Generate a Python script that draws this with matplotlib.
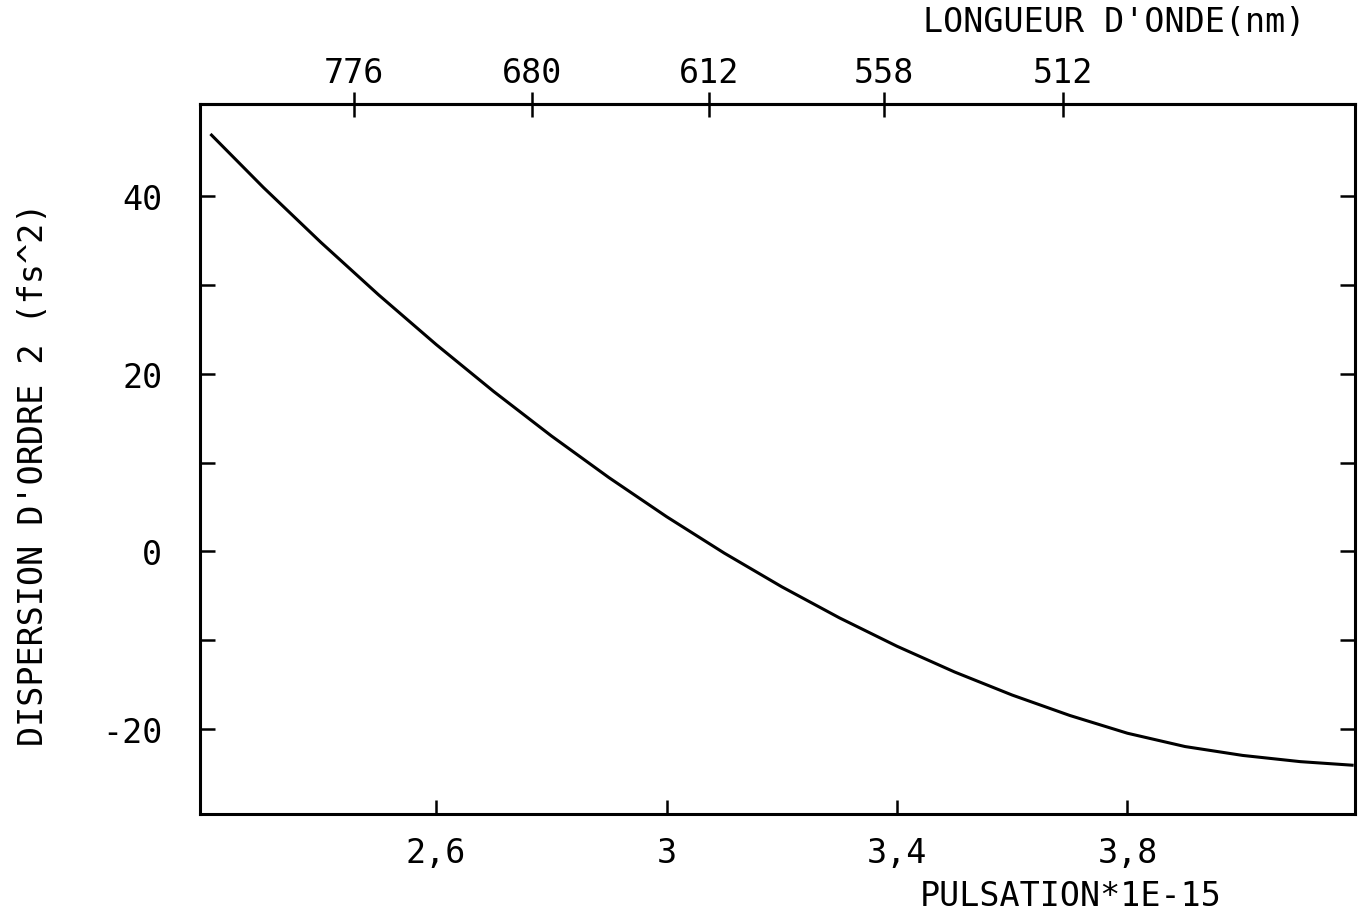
"""Second-order dispersion vs pulsation, with a wavelength axis on top -> out.png."""

import matplotlib
matplotlib.use("Agg")
import matplotlib.pyplot as plt

# curve: pulsation (x 1e15 rad/s) and dispersion (fs^2)
omega = [2.21, 2.30, 2.40, 2.50, 2.60, 2.70, 2.80, 2.90, 3.00, 3.10, 3.20,
         3.30, 3.40, 3.50, 3.60, 3.70, 3.80, 3.90, 4.00, 4.10, 4.19]
gdd = [46.9, 41.0, 34.8, 28.9, 23.3, 18.0, 13.0, 8.3, 3.9, -0.2, -4.0,
       -7.5, -10.7, -13.6, -16.2, -18.5, -20.5, -22.0, -23.0, -23.7, -24.1]

x_ticks = [2.6, 3.0, 3.4, 3.8]
x_labels = ["2,6", "3", "3,4", "3,8"]
y_ticks = [40, 20, 0, -20]
y_minor = [30, 10, -10]

# wavelength ticks (nm) and where they sit on the pulsation scale
top_labels = ["776", "680", "612", "558", "512"]
top_pos = [2.458, 2.766, 3.073, 3.378, 3.6875]

FONT = "DejaVu Sans Mono"
FS = 24


def main():
    plt.rcParams["font.family"] = FONT
    fig = plt.figure(figsize=(13.62, 9.12), dpi=100)
    ax = fig.add_axes([200 / 1362, 1 - 815 / 912, 1155 / 1362, 710 / 912])

    ax.plot(omega, gdd, color="black", lw=2.2)
    ax.set_xlim(2.19, 4.195)
    ax.set_ylim(-29.6, 50.4)

    for s in ax.spines.values():
        s.set_linewidth(2.2)

    ax.set_xticks(x_ticks)
    ax.set_xticklabels(x_labels, fontsize=FS)
    ax.set_yticks(y_ticks)
    ax.set_yticklabels([str(v) for v in y_ticks], fontsize=FS)
    ax.set_yticks(y_minor, minor=True)
    ax.tick_params(axis="x", direction="in", length=10, width=1.8, pad=16)
    ax.tick_params(axis="y", which="both", direction="in", length=11, width=1.8,
                   right=True, pad=27)

    top = ax.secondary_xaxis("top")
    top.set_xticks(top_pos)
    top.set_xticklabels(top_labels, fontsize=FS)
    top.tick_params(direction="inout", length=18, width=1.8, pad=2)
    top.spines["top"].set_linewidth(2.2)

    ax.set_ylabel("DISPERSION D'ORDRE 2 (fs^2)", fontsize=FS)
    ax.yaxis.set_label_coords(-150 / 1155, 0.48)
    fig.text(1222 / 1362, 1 - 897 / 912, "PULSATION*1E-15", fontsize=FS,
             ha="right", va="center")
    fig.text(1305 / 1362, 1 - 22 / 912, "LONGUEUR D'ONDE(nm)", fontsize=FS,
             ha="right", va="center")

    fig.savefig("out.png", dpi=100)


if __name__ == "__main__":
    main()
